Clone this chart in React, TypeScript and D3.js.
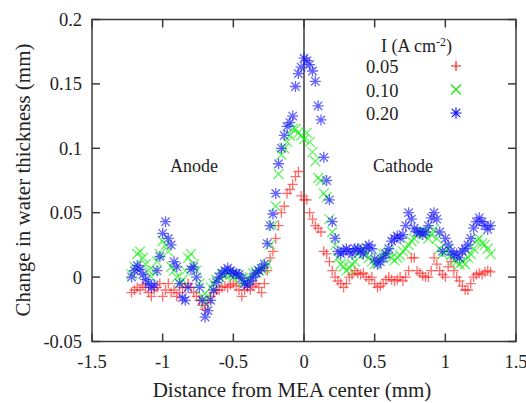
import React from "react";
import * as d3 from "d3";

const distance = [
  -1.22, -1.2, -1.18, -1.16, -1.14, -1.12, -1.1, -1.08,
  -1.06, -1.04, -1.02, -1.0, -0.98, -0.96, -0.94, -0.92,
  -0.9, -0.88, -0.86, -0.84, -0.82, -0.8, -0.78, -0.76,
  -0.74, -0.72, -0.7, -0.68, -0.66, -0.64, -0.62, -0.6,
  -0.58, -0.56, -0.54, -0.52, -0.5, -0.48, -0.46, -0.44,
  -0.42, -0.4, -0.38, -0.36, -0.34, -0.32, -0.3, -0.28,
  -0.26, -0.24, -0.22, -0.2, -0.18, -0.16, -0.14, -0.12,
  -0.1, -0.08, -0.06, -0.04, -0.02, 0.0, 0.02, 0.04,
  0.06, 0.08, 0.1, 0.12, 0.14, 0.16, 0.18, 0.2,
  0.22, 0.24, 0.26, 0.28, 0.3, 0.32, 0.34, 0.36,
  0.38, 0.4, 0.42, 0.44, 0.46, 0.48, 0.5, 0.52,
  0.54, 0.56, 0.58, 0.6, 0.62, 0.64, 0.66, 0.68,
  0.7, 0.72, 0.74, 0.76, 0.78, 0.8, 0.82, 0.84,
  0.86, 0.88, 0.9, 0.92, 0.94, 0.96, 0.98, 1.0,
  1.02, 1.04, 1.06, 1.08, 1.1, 1.12, 1.14, 1.16,
  1.18, 1.2, 1.22, 1.24, 1.26, 1.28, 1.3, 1.32,
];

const series005 = [
  -0.012, -0.01, -0.008, -0.01, -0.006, -0.008, -0.012, -0.015,
  -0.01, -0.008, -0.005, -0.015, -0.01, -0.005, -0.012, -0.01,
  -0.015, -0.012, -0.008, -0.008, -0.005, -0.008, -0.012, -0.015,
  -0.018, -0.022, -0.025, -0.02, -0.015, -0.012, -0.01, -0.01,
  -0.008, -0.007, -0.008, -0.006, -0.005, -0.007, -0.01, -0.015,
  -0.01, -0.008, -0.01, -0.007, -0.005, -0.008, -0.012, -0.005,
  0.005, 0.015, 0.02, 0.03, 0.04, 0.05, 0.055, 0.065,
  0.068, 0.072, 0.078, 0.082, 0.063, 0.06, 0.06, 0.05,
  0.045, 0.04, 0.038, 0.035, 0.02, 0.018, 0.012, 0.005,
  0.0, -0.003, -0.005, -0.008, -0.005, 0.0, 0.002, 0.005,
  0.003, 0.002, 0.003, 0.0, -0.002, 0.0, -0.005, -0.008,
  -0.007, -0.005, -0.002, 0.0, -0.002, -0.003, -0.002, 0.0,
  -0.003, 0.0, 0.005, 0.015, 0.015, 0.005, 0.003, 0.001,
  0.0, 0.0, 0.005, 0.015, 0.01, 0.005, 0.002, 0.0,
  0.008, 0.012, 0.005, 0.0, -0.003, -0.007, -0.01, -0.01,
  -0.005, 0.0, 0.002, 0.003, 0.002, 0.004, 0.005, 0.004,
];

const series010 = [
  0.002, 0.008, 0.018, 0.02, 0.015, 0.01, 0.005, 0.0,
  0.005, 0.012, 0.018, 0.028, 0.025, 0.02, 0.008, 0.005,
  0.0, -0.005, -0.002, 0.005, 0.015, 0.018, 0.01, 0.005,
  -0.005, -0.015, -0.02, -0.015, -0.008, -0.005, -0.002, 0.0,
  0.002, 0.002, 0.003, 0.002, 0.0, 0.002, 0.0, -0.003,
  -0.004, -0.002, 0.0, 0.003, 0.004, 0.005, 0.006, 0.007,
  0.01, 0.025, 0.04, 0.055, 0.08, 0.095, 0.1, 0.105,
  0.11, 0.115, 0.115, 0.112, 0.11, 0.107, 0.112, 0.105,
  0.097, 0.09, 0.077, 0.075, 0.065, 0.062, 0.045, 0.035,
  0.025, 0.015, 0.01, 0.008, 0.005, 0.007, 0.01, 0.012,
  0.018, 0.02, 0.022, 0.018, 0.015, 0.012, 0.01, 0.012,
  0.015, 0.018, 0.018, 0.02, 0.015, 0.013, 0.015, 0.017,
  0.02, 0.022, 0.025, 0.028, 0.03, 0.033, 0.035, 0.035,
  0.035, 0.03, 0.033, 0.037, 0.03, 0.022, 0.018, 0.02,
  0.022, 0.017, 0.013, 0.012, 0.01, 0.012, 0.01, 0.015,
  0.018, 0.022, 0.028, 0.03, 0.026, 0.025, 0.022, 0.018,
];

const series020 = [
  0.0, 0.005, 0.009, 0.006, 0.002, -0.002, -0.005, -0.008,
  -0.006, 0.005, 0.016, 0.034, 0.043, 0.03, 0.025, 0.012,
  0.008, -0.005, -0.016, -0.018, -0.008, 0.006, 0.008, 0.0,
  -0.008, -0.018, -0.031, -0.026, -0.018, -0.01, -0.004, 0.0,
  0.003, 0.005, 0.007, 0.005, 0.003, 0.003, 0.002, -0.001,
  -0.005, -0.006, -0.003, 0.0, 0.003, 0.005, 0.007, 0.01,
  0.026, 0.04, 0.049, 0.065, 0.088, 0.1, 0.11, 0.117,
  0.12, 0.125, 0.148, 0.158, 0.163, 0.17, 0.168, 0.165,
  0.16, 0.152, 0.133, 0.122, 0.093, 0.075, 0.06, 0.043,
  0.03, 0.02, 0.018, 0.02, 0.022, 0.02, 0.018, 0.022,
  0.022, 0.02, 0.018, 0.023, 0.025, 0.022, 0.014, 0.01,
  0.012, 0.015, 0.018, 0.022, 0.028, 0.03, 0.032, 0.03,
  0.033, 0.04, 0.05, 0.045, 0.038, 0.035, 0.035, 0.033,
  0.035, 0.04, 0.046, 0.05, 0.045, 0.035, 0.02, 0.03,
  0.025, 0.02, 0.017, 0.018, 0.015, 0.02, 0.022, 0.025,
  0.03, 0.038, 0.043, 0.046, 0.043, 0.04, 0.037, 0.04,
];

const seriesLabels = ["0.05", "0.10", "0.20"];
const seriesColors = ["#ff1a1a", "#11ee11", "#1111ff"];
const xTicks = [-1.5, -1, -0.5, 0, 0.5, 1, 1.5];
const xTickLabels = ["-1.5", "-1", "-0.5", "0", "0.5", "1", "1.5"];
const yTicks = [-0.05, 0, 0.05, 0.1, 0.15, 0.2];
const yTickLabels = ["-0.05", "0", "0.05", "0.1", "0.15", "0.2"];

const W = 526;
const H = 403;
const left = 92;
const right = 516;
const top = 19.5;
const bottom = 341.5;
const FONT = "'Liberation Serif', 'Times New Roman', serif";

const markerPaths = [
  "M-5,0H5M0,-5V5",
  "M-5,-5L5,5M-5,5L5,-5",
  "M-5.5,0H5.5M0,-5.5V5.5M-4.2,-4.2L4.2,4.2M-4.2,4.2L4.2,-4.2",
];

export default function App() {
  const x = d3.scaleLinear().domain([-1.5, 1.5]).range([left, right]);
  const y = d3.scaleLinear().domain([-0.05, 0.2]).range([bottom, top]);
  const allSeries = [series005, series010, series020];
  const tickLen = 8;
  const frame = "#3a3a3a";
  const textColor = "#222";

  return (
    <svg
      width={W}
      height={H}
      style={{ position: "absolute", left: 0, top: 0, background: "#fff" }}
      fontFamily={FONT}
    >
      <rect x={0} y={0} width={W} height={H} fill="#fff" />
      <line x1={x(0)} x2={x(0)} y1={top} y2={bottom} stroke={frame} strokeWidth={1.5} />
      {allSeries.map((s, si) => (
        <g key={si} stroke={seriesColors[si]} strokeWidth={1.3} strokeOpacity={0.65} fill="none">
          {distance.map((d, i) =>
            s[i] === undefined ? null : (
              <path key={i} d={markerPaths[si]} transform={`translate(${x(d)},${y(s[i])})`} />
            )
          )}
        </g>
      ))}
      <rect
        x={left}
        y={top}
        width={right - left}
        height={bottom - top}
        fill="none"
        stroke={frame}
        strokeWidth={1.5}
      />
      {xTicks.map((t, i) => (
        <g key={"xt" + i}>
          <line x1={x(t)} x2={x(t)} y1={bottom} y2={bottom - tickLen} stroke={frame} strokeWidth={1.5} />
          <line x1={x(t)} x2={x(t)} y1={top} y2={top + tickLen} stroke={frame} strokeWidth={1.5} />
          <text x={x(t)} y={bottom + 26} textAnchor="middle" fontSize={18.5} fill={textColor}>
            {xTickLabels[i]}
          </text>
        </g>
      ))}
      {yTicks.map((t, i) => (
        <g key={"yt" + i}>
          <line x1={left} x2={left + tickLen} y1={y(t)} y2={y(t)} stroke={frame} strokeWidth={1.5} />
          <line x1={right} x2={right - tickLen} y1={y(t)} y2={y(t)} stroke={frame} strokeWidth={1.5} />
          <text
            x={left - 10}
            y={y(t)}
            dy="0.35em"
            textAnchor="end"
            fontSize={18.5}
            fill={textColor}
          >
            {yTickLabels[i]}
          </text>
        </g>
      ))}
      <text x={292} y={397} textAnchor="middle" fontSize={21} fill={textColor}>
        Distance from MEA center (mm)
      </text>
      <text
        transform={`translate(30,180)rotate(-90)`}
        textAnchor="middle"
        fontSize={21}
        fill={textColor}
      >
        Change in water thickness (mm)
      </text>
      <text x={194} y={172} textAnchor="middle" fontSize={18} fill={textColor}>
        Anode
      </text>
      <text x={403} y={172} textAnchor="middle" fontSize={18} fill={textColor}>
        Cathode
      </text>
      <text x={381} y={52} fontSize={18} fill={textColor}>
        I (A cm
        <tspan dy={-6} fontSize={12}>-2</tspan>
        <tspan dy={6}>)</tspan>
      </text>
      {seriesLabels.map((lab, i) => (
        <g key={"lg" + i}>
          <text x={366} y={73 + i * 23.5} fontSize={18.5} fill={textColor}>
            {lab}
          </text>
          <path
            d={markerPaths[i]}
            transform={`translate(456,${66 + i * 23.5})`}
            stroke={seriesColors[i]}
            strokeWidth={1.2}
            fill="none"
          />
        </g>
      ))}
    </svg>
  );
}
